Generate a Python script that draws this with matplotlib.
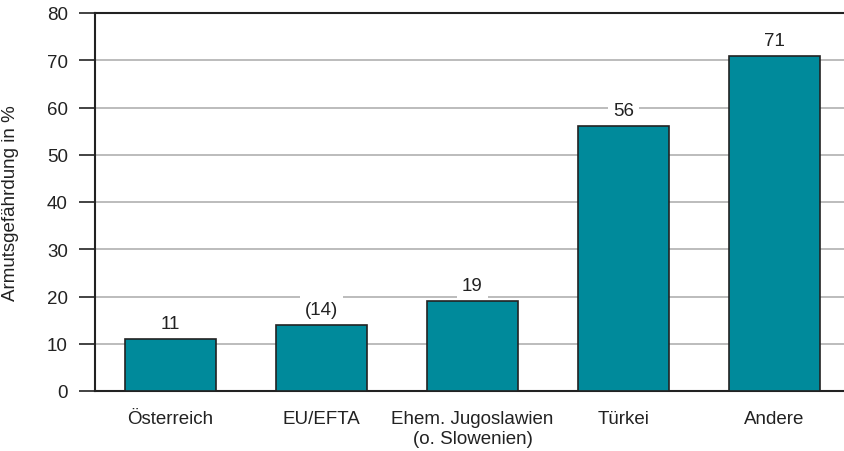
import matplotlib
matplotlib.use("Agg")
import matplotlib.pyplot as plt

categories = ["Österreich", "EU/EFTA", "Ehem. Jugoslawien\n(o. Slowenien)", "Türkei", "Andere"]
values = [11, 14, 19, 56, 71]
value_labels = ["11", "(14)", "19", "56", "71"]
yticks = [0, 10, 20, 30, 40, 50, 60, 70, 80]
ylabel = "Armutsgefährdung in %"

plt.rcParams['font.family'] = ['Liberation Sans', 'DejaVu Sans']
FS = 13.5
W, H = 845, 452
fig = plt.figure(figsize=(W / 100, H / 100), dpi=100)
left, right, top, bottom = 95, 850, 14, 392
ax = fig.add_axes([left / W, (H - bottom) / H, (right - left) / W, (bottom - top) / H])

x = list(range(len(categories)))
ax.bar(x, values, width=0.6, color="#008a9b", edgecolor="#222222", linewidth=1.2, zorder=3)
ax.set_xlim(-0.5, len(categories) - 0.5)
ax.set_ylim(0, 80)
ax.set_yticks(yticks)
ax.yaxis.grid(True, color="#b0b0b0", linewidth=1.2, zorder=0)
ax.set_axisbelow(True)
ax.tick_params(axis='y', direction='out', length=11.5, width=1.2, color="#222222", labelsize=FS, pad=8)
ax.tick_params(axis='x', length=0, labelsize=FS, pad=14)
ax.set_xticks(x)
ax.set_xticklabels(categories, color="#222222", linespacing=1.2)
for lbl in ax.get_yticklabels():
    lbl.set_color("#222222")
for s in ["left", "bottom", "top"]:
    ax.spines[s].set_color("#222222")
    ax.spines[s].set_linewidth(1.5)
ax.spines["right"].set_visible(False)

for xi, v, t in zip(x, values, value_labels):
    ax.annotate(t, (xi, v), xytext=(0, 5), textcoords="offset points", ha="center", va="bottom",
                fontsize=FS, color="#222222", zorder=2,
                bbox=dict(boxstyle="square,pad=0.25", facecolor="white", edgecolor="none"))

ax.set_ylabel(ylabel, fontsize=FS, color="#222222", labelpad=20)
fig.savefig("out.png", dpi=100)
